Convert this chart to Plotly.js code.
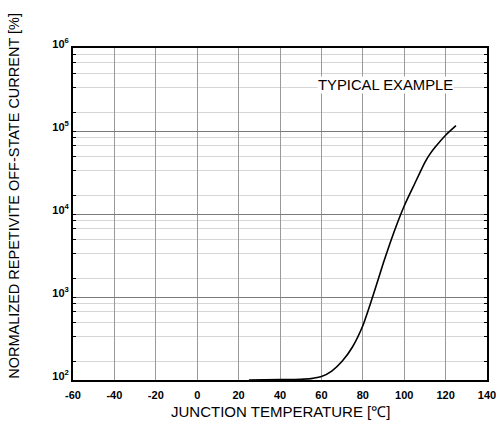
<!DOCTYPE html>
<html>
<head>
<meta charset="utf-8">
<script src="https://cdn.plot.ly/plotly-3.0.1.min.js"></script>
<style>html,body{margin:0;padding:0;background:#fff;}#chart{width:500px;height:432px;}</style>
</head>
<body>
<div id="chart"></div>
<script>
// Data
var temperature = [25, 40, 50, 55, 60, 65, 70, 75, 80, 85, 90, 95, 100, 105, 110, 112.5, 115, 120, 125];
var currentPct  = [100, 101, 102, 104, 110, 128, 168, 250, 450, 1050, 2600, 6000, 12500, 23000, 42000, 53000, 64000, 89000, 116000];

var xTicks = [-60, -40, -20, 0, 20, 40, 60, 80, 100, 120, 140];
var xTickText = ['-60', '-40', '-20', '0', '20', '40', '60', '80', '100', '120', '140'];
var yTicks = [1e2, 1e3, 1e4, 1e5, 1e6];
var yTickText = ['10<sup>2</sup>', '10<sup>3</sup>', '10<sup>4</sup>', '10<sup>5</sup>', '10<sup>6</sup>'];
var minorMult = [1.65, 3.3, 4.95, 6.7, 8.35];
var decades = [1e2, 1e3, 1e4, 1e5];

var minorVals = [];
decades.forEach(function (d) { minorMult.forEach(function (m) { minorVals.push(d * m); }); });

var font = 'Arial, "Liberation Sans", sans-serif';
function bold(s) { return '<b>' + s + '</b>'; }

var trace = {
  x: temperature, y: currentPct, type: 'scatter', mode: 'lines',
  line: {color: '#000', width: 1.6, shape: 'spline', smoothing: 0.6},
  hoverinfo: 'skip', showlegend: false
};

var layout = {
  width: 500, height: 432,
  margin: {l: 73, r: 13, t: 48, b: 52},
  paper_bgcolor: '#fff', plot_bgcolor: '#fff',
  font: {family: font, color: '#000'},
  xaxis: {
    range: [-60, 140], tickmode: 'array', tickvals: xTicks, ticktext: xTickText.map(bold),
    tickfont: {family: font, size: 11, color: '#000'},
    showgrid: true, gridcolor: '#9a9a9a', gridwidth: 1,
    zeroline: false, showline: true, linecolor: '#000', linewidth: 2, mirror: true,
    ticks: '', ticklabelstandoff: 4
  },
  yaxis: {
    type: 'log', range: [2, 6], tickmode: 'array', tickvals: yTicks, ticktext: yTickText.map(bold),
    tickfont: {family: font, size: 11, color: '#000'},
    ticklabelshift: -4,
    showgrid: true, gridcolor: '#7a7a7a', gridwidth: 1,
    zeroline: false, showline: true, linecolor: '#000', linewidth: 2, mirror: 'allticks',
    ticks: 'inside', ticklen: 3, tickcolor: '#000', tickwidth: 1,
    minor: {tickmode: 'array', tickvals: minorVals, showgrid: true, gridcolor: '#d6d6d6', gridwidth: 1,
            ticks: 'inside', ticklen: 3, tickcolor: '#000', tickwidth: 1}
  },
  annotations: [
    {text: 'TYPICAL EXAMPLE', xref: 'paper', yref: 'paper', x: 0.755, y: 0.889,
     xanchor: 'center', yanchor: 'middle',
     showarrow: false, bgcolor: '#fff', borderpad: 0,
     font: {family: font, size: 14.8, color: '#000'}},
    {text: 'JUNCTION TEMPERATURE [℃]', xref: 'paper', yref: 'paper', x: 0.502, y: -0.095,
     xanchor: 'center', yanchor: 'middle', showarrow: false,
     font: {family: font, size: 15, color: '#000'}},
    {text: 'NORMALIZED REPETIVITE OFF-STATE CURRENT [%]', xref: 'paper', yref: 'paper',
     x: -0.1425, y: 0.555, xanchor: 'center', yanchor: 'middle', textangle: -90, showarrow: false,
     font: {family: font, size: 14.5, color: '#000'}}
  ]
};

Plotly.newPlot('chart', [trace], layout, {staticPlot: true, displayModeBar: false});
</script>
</body>
</html>
